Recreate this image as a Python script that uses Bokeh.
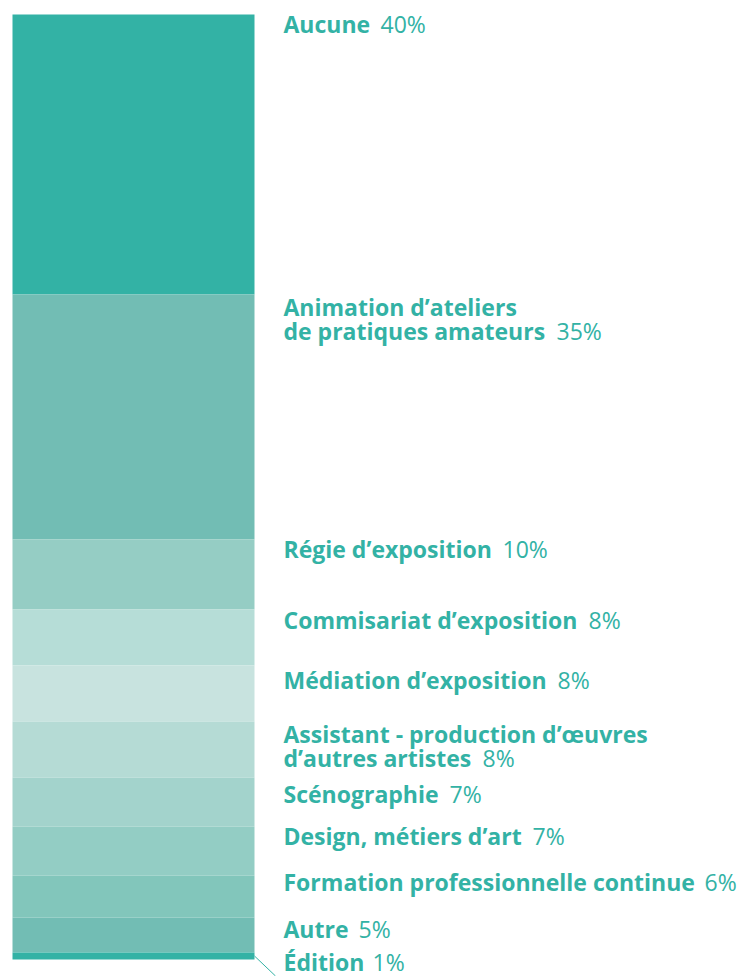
from bokeh.plotting import figure
from bokeh.models import Range1d, ColumnDataSource
from bokeh.core.properties import value
from bokeh.embed import file_html
from bokeh.resources import INLINE

# ---- data ----
categories = ["Aucune", "Animation d’ateliers\nde pratiques amateurs", "Régie d’exposition",
              "Commisariat d’exposition", "Médiation d’exposition",
              "Assistant - production d’œuvres\nd’autres artistes", "Scénographie",
              "Design, métiers d’art", "Formation professionnelle continue", "Autre", "Édition"]
percents = [40, 35, 10, 8, 8, 8, 7, 7, 6, 5, 1]
colors = ["#33b2a5", "#72bdb4", "#95cdc4", "#b6ddd7", "#c8e3df", "#b5dbd5",
          "#a3d3cc", "#93cdc4", "#82c6bb", "#72bdb4", "#33b2a5"]

# ---- layout (pixels) ----
W, H = 744, 976
PX_PER_PCT = 7.0
TOP = 14  # px of bar top
BAR_X0, BAR_X1 = 12, 254
LABEL_X = 283
label_baseline_px = [32, 315, 557, 628, 688, 742, 802, 844, 890, 937, 970]
pct_x_px = [380, 556, 502, 588, 557, 482, 449, 532, 704, 358, 372]
BASE_FIX = -9
LINE_H = 24
TEAL = "#33b2a5"
FONT = "Open Sans"
FS = "23px"

def px_to_pct(y):
    return (y + BASE_FIX - TOP) / PX_PER_PCT

bottoms, tops = [], []
c = 0
for v in percents:
    tops.append(c)
    c += v
    bottoms.append(c)

p = figure(width=W, height=H, output_backend="svg", toolbar_location=None,
           x_range=Range1d(0, W), y_range=Range1d((H - TOP) / PX_PER_PCT, -TOP / PX_PER_PCT),
           min_border=0)
p.axis.visible = False
p.grid.visible = False
p.outline_line_color = None
p.background_fill_color = "white"
p.border_fill_color = "white"

src = ColumnDataSource(dict(top=tops, bottom=bottoms, color=colors))
p.quad(left=BAR_X0, right=BAR_X1, top="top", bottom="bottom", fill_color="color",
       line_color=None, source=src)

# leader line for Édition
ed_mid = (tops[-1] + bottoms[-1]) / 2
p.line(x=[BAR_X1, BAR_X1 + 21], y=[ed_mid, ed_mid + 20 / PX_PER_PCT], line_color=TEAL, line_width=1)

# labels
name_x, name_y, names = [], [], []
for cat, base in zip(categories, label_baseline_px):
    lines = cat.split("\n")
    for i, ln in enumerate(lines):
        name_x.append(LABEL_X)
        name_y.append(px_to_pct(base + i * LINE_H))
        names.append(ln)
p.text(x=name_x, y=name_y, text=names, text_font=value(FONT), text_font_style="bold",
       text_font_size=FS, text_color=TEAL, text_baseline="alphabetic", text_align="left")

pct_y = []
for cat, base in zip(categories, label_baseline_px):
    n = len(cat.split("\n"))
    pct_y.append(px_to_pct(base + (n - 1) * LINE_H))
p.text(x=pct_x_px, y=pct_y, text=[f"{v}%" for v in percents], text_font=value(FONT),
       text_font_style="normal", text_font_size=FS, text_color=TEAL,
       text_baseline="alphabetic", text_align="left")

open("out.html", "w").write(file_html(p, INLINE))
